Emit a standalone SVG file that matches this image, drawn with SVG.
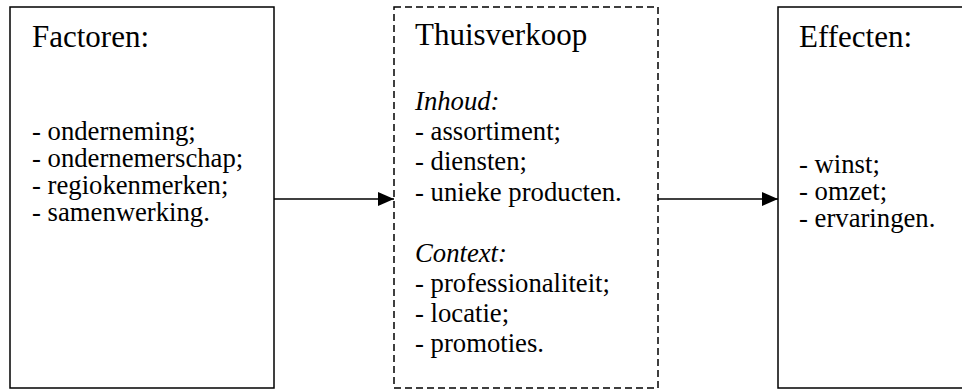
<svg xmlns="http://www.w3.org/2000/svg" width="962" height="391" viewBox="0 0 962 391">
<defs>
<style>
.box{fill:#fff;stroke:#000;stroke-width:1.5}
.dash{stroke-dasharray:7,4}
.h{font-family:"Liberation Serif","Times New Roman",serif;font-size:31px;fill:#000}
.t{font-family:"Liberation Serif","Times New Roman",serif;font-size:26.7px;fill:#000}
.i{font-style:italic}
.conn{stroke:#000;stroke-width:1.5;fill:none}
</style>
<marker id="ah" viewBox="0 0 16 14" refX="16" refY="7" markerWidth="16" markerHeight="14" markerUnits="userSpaceOnUse" orient="auto">
<path d="M0,0 L16,7 L0,14 Z" fill="#000"/>
</marker>
</defs>
<rect width="962" height="391" fill="#fff"/>
<g id="factoren">
<rect class="box" x="10" y="7" width="264" height="381"/>
<text class="h" x="32" y="47">Factoren:</text>
<text class="t" x="32" y="140">- onderneming;</text>
<text class="t" x="32" y="167">- ondernemerschap;</text>
<text class="t" x="32" y="194">- regiokenmerken;</text>
<text class="t" x="32" y="221">- samenwerking.</text>
</g>
<g id="thuisverkoop">
<rect class="box dash" x="394" y="7" width="264" height="381"/>
<text class="h" x="415" y="45">Thuisverkoop</text>
<text class="t i" x="415" y="110">Inhoud:</text>
<text class="t" x="415" y="140">- assortiment;</text>
<text class="t" x="415" y="170">- diensten;</text>
<text class="t" x="415" y="201">- unieke producten.</text>
<text class="t i" x="415" y="262">Context:</text>
<text class="t" x="415" y="292">- professionaliteit;</text>
<text class="t" x="415" y="322">- locatie;</text>
<text class="t" x="415" y="352">- promoties.</text>
</g>
<g id="effecten">
<rect class="box" x="778" y="7" width="200" height="381"/>
<text class="h" x="799" y="47">Effecten:</text>
<text class="t" x="799" y="173">- winst;</text>
<text class="t" x="799" y="200">- omzet;</text>
<text class="t" x="799" y="227">- ervaringen.</text>
</g>
<g id="connectors">
<line class="conn" x1="274" y1="199" x2="394" y2="199" marker-end="url(#ah)"/>
<line class="conn" x1="658" y1="199" x2="778" y2="199" marker-end="url(#ah)"/>
</g>
</svg>
